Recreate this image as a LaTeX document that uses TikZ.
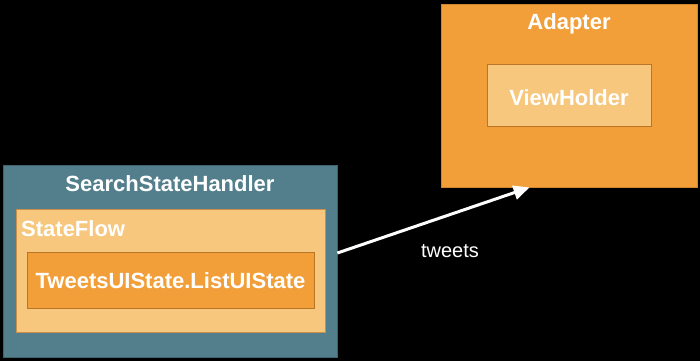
\documentclass[tikz,border=0pt]{standalone}
\usepackage{fontspec}
\setmainfont{Liberation Sans}
\usetikzlibrary{arrows.meta,calc}
\definecolor{tealbg}{HTML}{537F8C}
\definecolor{tealbd}{HTML}{3E6470}
\definecolor{lightor}{HTML}{F6C77C}
\definecolor{lightbd}{HTML}{C8904A}
\definecolor{orfill}{HTML}{F29F3A}
\definecolor{orbd}{HTML}{B97628}
\begin{document}
\begin{tikzpicture}[x=1pt,y=-1pt,
  box/.style={rectangle, draw, line width=0.8pt, inner sep=0pt},
  title/.style={text=white, font=\fontsize{22}{26}\selectfont\bfseries, inner sep=0pt, anchor=base},
  conn/.style={white, line width=3pt, -{Triangle[length=16pt,width=14pt]}}]
\fill[black] (0,0) rectangle (700,361);
\useasboundingbox (0,0) rectangle (700,361);
% SearchStateHandler
\node[box, draw=tealbd, fill=tealbg, minimum width=334pt, minimum height=192pt] (ssh) at (170,261) {};
\node[title] (sshT) at (170,191) {SearchStateHandler};
\node[box, draw=lightbd, fill=lightor, minimum width=309pt, minimum height=123pt] (sf) at (170.5,270.5) {};
\node[title, anchor=base west] (sfT) at (21,236) {StateFlow};
\node[box, draw=orbd, fill=orfill, minimum width=287pt, minimum height=56pt] (ls) at (170.5,280) {};
\node[title] (lsT) at (170.5,288) {TweetsUIState.ListUIState};
% Adapter
\node[box, draw=orbd!60!orfill, fill=orfill, minimum width=256pt, minimum height=183pt] (ad) at (569,95.5) {};
\node[title] (adT) at (569,30) {Adapter};
\node[box, draw=orbd, fill=lightor, minimum width=164pt, minimum height=62pt] (vh) at (569,95) {};
\node[title] (vhT) at (569,105) {ViewHolder};
% connector
\coordinate (src) at ($(ssh.east)+(0,-8)$);
\coordinate (dst) at ($(ad.south west)+(89,0)$);
\draw[conn] (src) -- (dst);
\node[text=white, font=\fontsize{20}{24}\selectfont, inner sep=0pt, anchor=base] (tw) at (450,257) {tweets};
\end{tikzpicture}
\end{document}
